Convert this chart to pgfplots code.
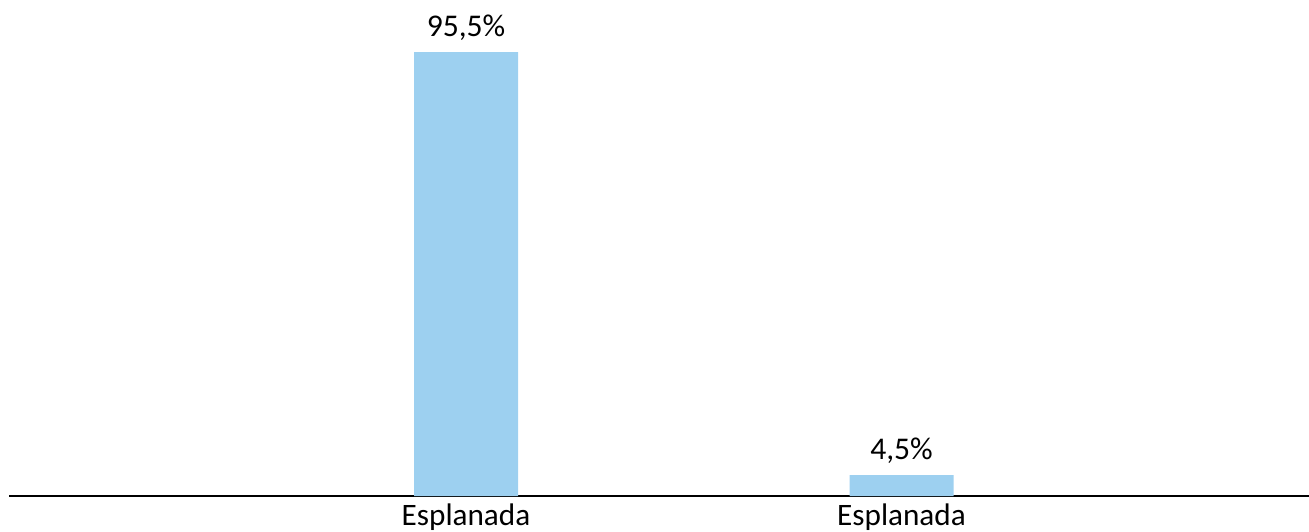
\documentclass[border=0pt]{standalone}
\usepackage{pgfplots}
\pgfplotsset{compat=1.18}
\usepackage{fontspec}
\setmainfont{Carlito}
\usetikzlibrary{calc}
\definecolor{barblue}{HTML}{9DD0F0}

\begin{document}
\begin{tikzpicture}
  \begin{axis}[
      scale only axis,
      width=650bp, height=248bp,
      xmin=-1.0494, xmax=1.9357,
      ymin=0, ymax=106.7,
      axis x line=bottom,
      axis y line=none,
      x axis line style={-, black, line width=1bp},
      xtick={0,1}, xticklabels={Esplanada, Esplanada},
      major tick length=0pt,
      xticklabel style={font=\fontsize{15.6bp}{18bp}\selectfont, inner sep=0pt, yshift=-3.5bp, anchor=north},
      ytick=\empty,
      /pgf/number format/assume math mode=true,
      nodes near coords={\pgfmathprintnumber[fixed, fixed zerofill, precision=1, use comma]{\pgfplotspointmeta}\%},
      nodes near coords style={font=\fontsize{15.8bp}{18bp}\selectfont, black, inner sep=0pt, anchor=base, yshift=8bp},
      clip=false,
    ]
    \addplot[ybar, bar width=52bp, fill=barblue, draw=none] coordinates {(0,95.5) (1,4.5)};
  \end{axis}
  \pgfresetboundingbox
  \path[use as bounding box] ($(current axis.south west)+(-4.5bp,-18bp)$) rectangle (current axis.north east);
\end{tikzpicture}
\end{document}
